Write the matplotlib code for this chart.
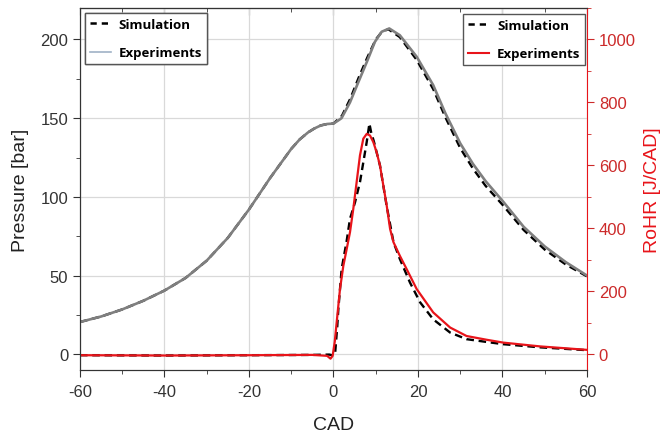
import matplotlib
matplotlib.use("Agg")
import matplotlib.pyplot as plt
from matplotlib.lines import Line2D
from matplotlib.ticker import MultipleLocator

plt.rcParams['font.family'] = ['Liberation Sans', 'DejaVu Sans']
plt.rcParams['axes.unicode_minus'] = False

# pressure, experiments
cad_p_exp = [-60, -55, -50, -45, -40, -35, -30, -25, -20, -15, -10, -8, -6, -4.5, -3, -1.5, 0,
             1.1, 1.9, 3.9, 5.9, 7.9, 9.8, 11.4, 13.2, 15.7, 19.7, 23.6, 26.5, 30, 33, 36, 40,
             45, 50, 55, 60]
p_exp = [20.5, 24, 28.5, 34, 40.5, 48.5, 59.5, 74, 92, 112, 130.5, 136.5, 141, 143.5, 145.4, 146.3, 146.6,
         148.5, 150, 160, 173, 185.8, 198.5, 204.9, 207, 202.7, 189, 171, 153, 134, 121, 110, 97.5,
         81, 68.5, 58.5, 50]

# pressure, simulation
cad_p_sim = [-60, -55, -50, -45, -40, -35, -30, -25, -20, -15, -10, -8, -6, -4.5, -3, -1.5, 0,
             2, 4, 6, 8, 10, 11.5, 13, 15.7, 19.7, 23.6, 26.5, 30, 33, 36, 40, 45, 50, 55, 60]
p_sim = [20.5, 24, 28.5, 34, 40.5, 48.5, 59.5, 74, 92, 112, 130.5, 136.5, 141, 143.5, 145.4, 146.3, 146.6,
         151.5, 162.5, 176, 188.5, 200, 205, 206.5, 201.5, 187, 168.5, 150.5, 131, 118, 107, 95, 79, 66.5, 57, 49.5]

# rate of heat release, experiments
cad_r_exp = [-60, -40, -20, -5, -1.5, -0.7, -0.2, 0.3, 0.75, 1.54, 2.33, 3.12, 3.91, 4.69, 5.48, 6.27,
             7.06, 7.86, 8.64, 9.43, 10.2, 11.0, 11.8, 12.6, 13.4, 14.2, 15.7, 17.3, 19.7, 23.6,
             27.6, 31.5, 36.3, 40.2, 48.9, 60]
r_exp = [-3, -4, -3, -2, -5, -14, -5, 40, 101, 207, 281, 334, 388, 462, 547, 632,
         685, 700, 695, 674, 642, 600, 536, 472, 398, 356, 313, 271, 207, 133,
         85, 58, 46, 37, 25, 14]

# rate of heat release, simulation
cad_r_sim = [-60, -40, -20, -5, -1, 0, 0.4, 0.9, 1.15, 1.93, 3.12, 3.9, 5.1, 6.27, 7.2, 7.86, 8.5, 8.9, 9.6,
             11.0, 12.6, 14.2, 15.7, 18.1, 20.5, 23.6, 27.6, 31.5, 36.3, 40.2, 48.9, 60]
r_sim = [-3, -4, -3, -2, -1, -4, 5, 90, 143, 271, 360, 430, 483, 547, 621, 674, 733, 706, 674,
         600, 470, 356, 303, 228, 165, 111, 69, 48, 39, 32, 22, 13]

red = '#e8141a'
red_txt = '#cc2a2a'
gray = '#7f7f7f'
dash = (0, (3.2, 2))

fig = plt.figure(figsize=(6.71, 4.35), dpi=100)
ax = fig.add_axes([0.1192, 0.1471, 0.7556, 0.8322])
ax2 = ax.twinx()

ax.plot(cad_p_sim, p_sim, color='black', lw=1.7, ls=dash)
ax.plot(cad_p_exp, p_exp, color=gray, lw=1.9)
ax2.plot(cad_r_sim, r_sim, color='black', lw=1.7, ls=dash)
ax2.plot(cad_r_exp, r_exp, color=red, lw=1.6)

ax.set_xlim(-60, 60)
ax.set_ylim(-10, 220)
ax2.set_ylim(-50, 1100)

ax.xaxis.set_major_locator(MultipleLocator(20))
ax.xaxis.set_minor_locator(MultipleLocator(10))
ax.yaxis.set_major_locator(MultipleLocator(50))
ax.yaxis.set_minor_locator(MultipleLocator(25))
ax2.yaxis.set_major_locator(MultipleLocator(200))
ax2.yaxis.set_minor_locator(MultipleLocator(100))

ax.grid(True, which='major', color='#d9d9d9', lw=0.9)
ax.set_axisbelow(True)

ax.tick_params(axis='x', which='both', direction='out', labelsize=12, colors='#333333', pad=5)
ax.tick_params(axis='x', which='major', length=5)
ax.tick_params(axis='x', which='minor', length=3)
ax.tick_params(axis='y', which='major', direction='out', length=5, labelsize=12, colors='#333333')
ax.tick_params(axis='y', which='minor', direction='out', length=3, colors='#333333')
ax2.tick_params(axis='y', which='major', direction='out', length=5, labelsize=12, colors=red_txt)
ax2.tick_params(axis='y', which='minor', direction='out', length=3, colors=red_txt)

# ticks pointing inward on the top edge
top = ax.secondary_xaxis('top')
top.xaxis.set_major_locator(MultipleLocator(20))
top.xaxis.set_minor_locator(MultipleLocator(10))
top.tick_params(which='both', direction='in', labeltop=False, colors='#333333')
top.tick_params(which='major', length=5)
top.tick_params(which='minor', length=3)

for s in ['left', 'bottom', 'top']:
    ax.spines[s].set_color('#333333')
    ax2.spines[s].set_color('#333333')
top.spines['top'].set_color('#333333')
ax2.spines['right'].set_color(red)
ax.spines['right'].set_visible(False)

ax.set_xlabel('CAD', fontsize=14, color='#222222', labelpad=12)
ax.set_ylabel('Pressure [bar]', fontsize=14, color='#222222', labelpad=8)
ax2.set_ylabel('RoHR [J/CAD]', fontsize=14, color=red, labelpad=6)

leg_font = {'family': 'Open Sans', 'weight': 'bold', 'size': 9.5}
leg_kw = dict(prop=leg_font, fancybox=False, edgecolor='#555555', framealpha=1,
              handlelength=1.6, handletextpad=0.6, labelspacing=1.2, borderpad=0.35,
              borderaxespad=0, bbox_transform=fig.transFigure)
h1 = [Line2D([], [], color='black', lw=1.8, ls=(0, (2.5, 2))),
      Line2D([], [], color='#9fb2c6', lw=1.2)]
l1 = ax.legend(h1, ['Simulation', 'Experiments'], loc='upper left',
               bbox_to_anchor=(0.1267, 0.9678), **leg_kw)
ax.add_artist(l1)
h2 = [Line2D([], [], color='black', lw=1.8, ls=(0, (2.5, 2))),
      Line2D([], [], color=red, lw=1.5)]
ax2.legend(h2, ['Simulation', 'Experiments'], loc='upper right',
           bbox_to_anchor=(0.8718, 0.9655), **leg_kw)

fig.savefig('out.png', dpi=100)
